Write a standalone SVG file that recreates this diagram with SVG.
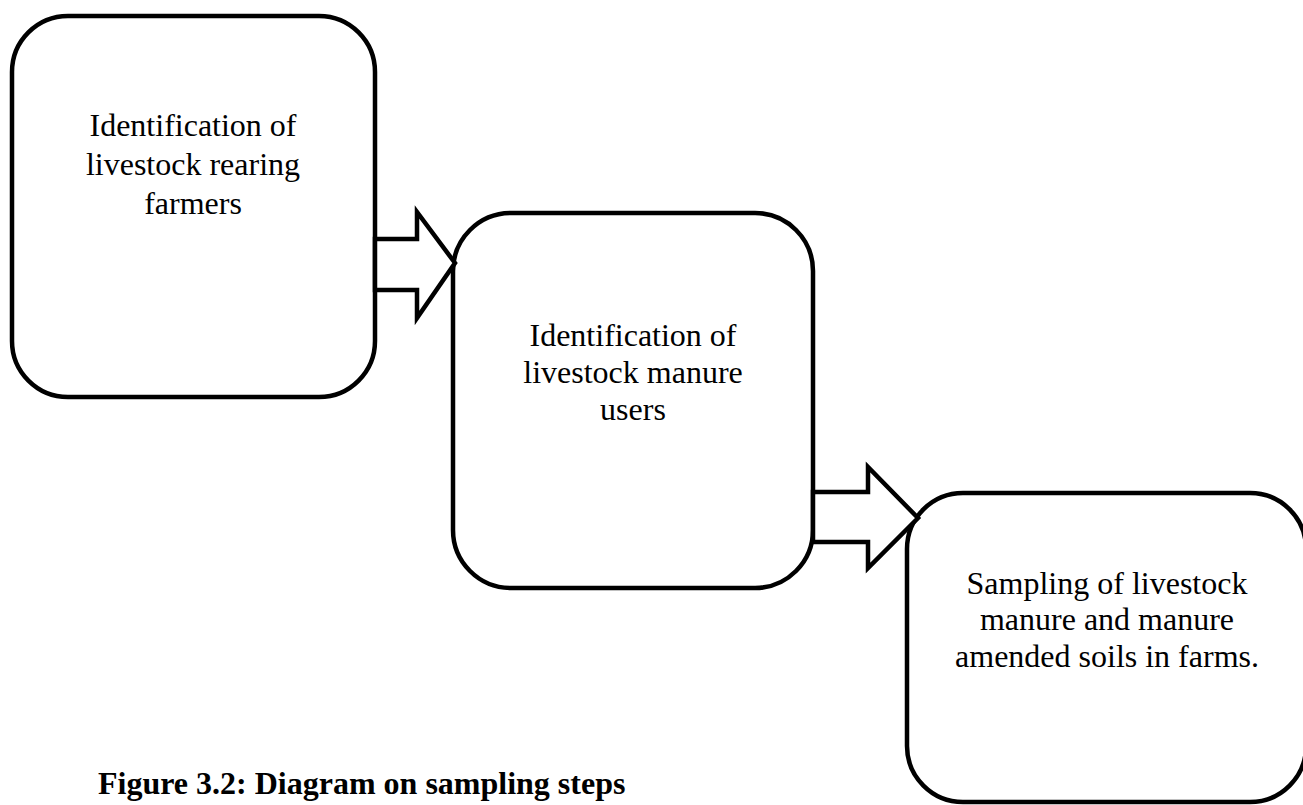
<svg xmlns="http://www.w3.org/2000/svg" width="1303" height="805" viewBox="0 0 1303 805">
<style>
.box{fill:#fff;stroke:#000;stroke-width:4.5}
.arrow{fill:#fff;stroke:#000;stroke-width:4.5;stroke-linejoin:miter}
.t{font-family:"Liberation Serif","Times New Roman",serif;font-size:32px;fill:#000;text-anchor:middle}
.cap{font-family:"Liberation Serif","Times New Roman",serif;font-size:32px;font-weight:bold;fill:#000}
</style>
<rect width="1303" height="805" fill="#fff"/>
<g id="node1">
<rect class="box" x="12" y="16" width="363" height="381" rx="56" ry="56"/>
<text class="t" x="193" y="136">Identification of</text>
<text class="t" x="193" y="175">livestock rearing</text>
<text class="t" x="193" y="214">farmers</text>
</g>
<g id="node2">
<rect class="box" x="453" y="213" width="360" height="375" rx="58" ry="58"/>
<text class="t" x="633" y="346">Identification of</text>
<text class="t" x="633" y="383">livestock manure</text>
<text class="t" x="633" y="420">users</text>
</g>
<g id="node3">
<rect class="box" x="907" y="493" width="399" height="309" rx="56" ry="56"/>
<text class="t" x="1107" y="594">Sampling of livestock</text>
<text class="t" x="1107" y="630">manure and manure</text>
<text class="t" x="1107" y="667">amended soils in farms.</text>
</g>
<g id="connectors">
<polygon class="arrow" points="375,239 417,239 417,212 455,263 417,318 417,290 375,290"/>
<polygon class="arrow" points="813,492 868,492 868,467 918,518 868,568 868,542 813,542"/>
</g>
<text class="cap" x="98" y="794">Figure 3.2: Diagram on sampling steps</text>
</svg>
